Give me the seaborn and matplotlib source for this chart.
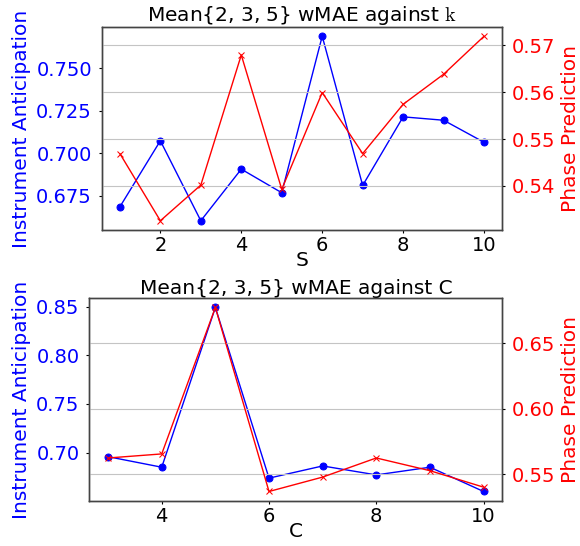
import matplotlib
matplotlib.use("Agg")
import matplotlib.pyplot as plt
import numpy as np
import pandas as pd
import seaborn as sns

# -----------------------------
# Data
# -----------------------------
s_values = [1, 2, 3, 4, 5, 6, 7, 8, 9, 10]
s_anticipation = [0.6685, 0.7074, 0.6603, 0.6907, 0.6768, 0.7690, 0.6811, 0.7215, 0.7195, 0.7065]
s_phase = [0.5469, 0.5326, 0.5402, 0.5679, 0.5393, 0.5599, 0.5469, 0.5574, 0.5638, 0.5719]

c_values = [3, 4, 5, 6, 7, 8, 9, 10]
c_anticipation = [0.6959, 0.6851, 0.8490, 0.6739, 0.6864, 0.6772, 0.6851, 0.6602]
c_phase = [0.5625, 0.5656, 0.6775, 0.5369, 0.5479, 0.5625, 0.5528, 0.5402]

left_label = "Instrument Anticipation"
right_label = "Phase Prediction"

sns.set_style("ticks")
plt.rcParams["font.family"] = ["DejaVu Sans"]
plt.rcParams["mathtext.fontset"] = "cm"
plt.rcParams["text.color"] = "black"
plt.rcParams["axes.labelcolor"] = "black"
plt.rcParams["xtick.color"] = "black"
plt.rcParams["ytick.color"] = "black"
plt.rcParams["xtick.major.size"] = 2.5
plt.rcParams["ytick.major.size"] = 2.5
plt.rcParams["xtick.major.pad"] = 2.0
plt.rcParams["ytick.major.pad"] = 4.5
plt.rcParams["xtick.major.width"] = 0.8
plt.rcParams["ytick.major.width"] = 0.8
plt.rcParams["axes.linewidth"] = 1.0

FS = 14
LFS = 14.5

fig = plt.figure(figsize=(5.8, 5.46), dpi=100)
ax1 = fig.add_axes([0.1753, 0.5788, 0.6907, 0.3718])
ax2 = fig.add_axes([0.1540, 0.0830, 0.7121, 0.3707])


def draw(ax, x, left, right, xlabel, title):
    df = pd.DataFrame({"x": x, "left": left, "right": right})
    sns.lineplot(data=df, x="x", y="left", ax=ax, color="blue", marker="o",
                 markersize=5, markeredgecolor="blue", lw=1)
    ax.set_ylabel(left_label, color="blue", fontsize=LFS)
    ax.tick_params(axis="y", labelcolor="blue", labelsize=FS)
    ax.tick_params(axis="x", labelsize=FS)
    ax.set_xlabel(xlabel, fontsize=LFS, labelpad=-3)
    ax.set_title(title, fontsize=14.5, pad=3)

    tw = ax.twinx()
    sns.lineplot(data=df, x="x", y="right", ax=tw, color="red", marker="x",
                 markersize=5, markeredgecolor="red", lw=1)
    tw.set_ylabel(right_label, color="red", fontsize=LFS)
    tw.tick_params(axis="y", labelcolor="red", labelsize=FS)
    tw.grid(axis="y", color="#c4c4c4", lw=0.8)
    tw.set_axisbelow(True)
    for a in (ax, tw):
        for sp in a.spines.values():
            sp.set_visible(True)
            sp.set_color("#444444")
    return tw


tw1 = draw(ax1, s_values, s_anticipation, s_phase, "S",
           r"Mean{2, 3, 5} wMAE against $\mathrm{k}$")
ax1.yaxis.set_major_formatter(matplotlib.ticker.FormatStrFormatter("%.3f"))
ax1.set_yticks([0.675, 0.700, 0.725, 0.750])
tw1.set_yticks([0.54, 0.55, 0.56, 0.57])

tw2 = draw(ax2, c_values, c_anticipation, c_phase, "C",
           "Mean{2, 3, 5} wMAE against C")
ax2.set_yticks([0.70, 0.75, 0.80, 0.85])
tw2.set_yticks([0.55, 0.60, 0.65])
ax2.set_xticks([4, 6, 8, 10])

for a in (ax1, tw1, ax2, tw2):
    a.margins(x=0.05, y=0.05)

ax1.set_xticks([2, 4, 6, 8, 10])

fig.savefig("out.png", dpi=100)
